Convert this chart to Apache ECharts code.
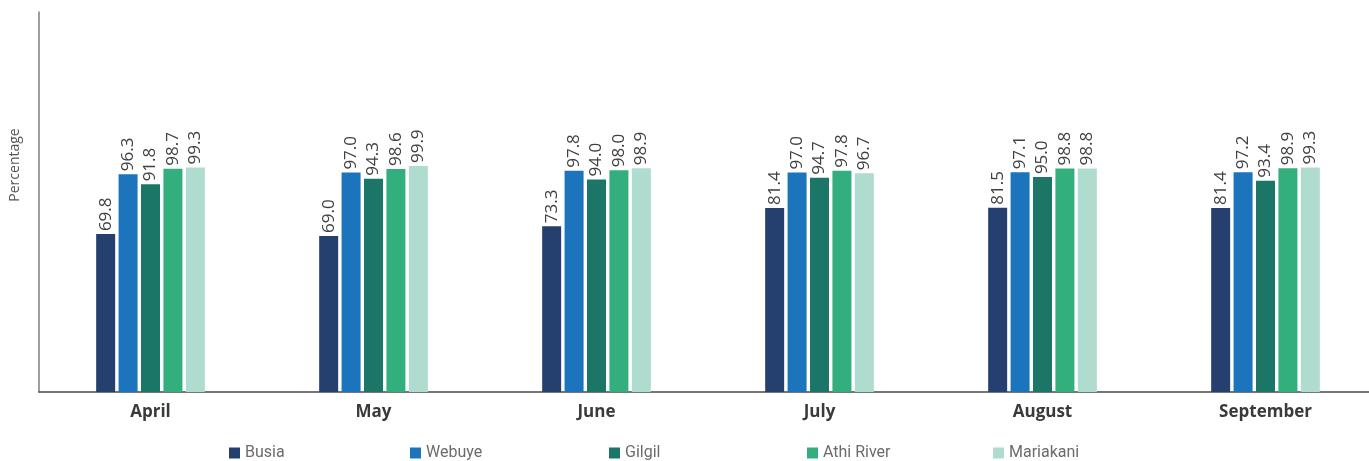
<!DOCTYPE html>
<html>
<head>
<meta charset="utf-8">
<script src="https://cdn.jsdelivr.net/npm/echarts@6/dist/echarts.min.js"></script>
<style>
  html, body { margin: 0; padding: 0; background: #ffffff; }
  #chart { width: 1369px; height: 461px; }
</style>
</head>
<body>
<div id="chart"></div>
<script>
// Monthly percentages per site
const months = ['April', 'May', 'June', 'July', 'August', 'September'];
const sites = ['Busia', 'Webuye', 'Gilgil', 'Athi River', 'Mariakani'];
const busia     = [69.8, 69.0, 73.3, 81.4, 81.5, 81.4];
const webuye    = [96.3, 97.0, 97.8, 97.0, 97.1, 97.2];
const gilgil    = [91.8, 94.3, 94.0, 94.7, 95.0, 93.4];
const athiRiver = [98.7, 98.6, 98.0, 97.8, 98.8, 98.9];
const mariakani = [99.3, 99.9, 98.9, 96.7, 98.8, 99.3];

const seriesValues = [busia, webuye, gilgil, athiRiver, mariakani];
const colors = ['#253f6e', '#1c75bc', '#1b7667', '#33af7e', '#b0dbcf'];
// left edge of each legend entry
const legendLeft = [224, 405, 604, 802, 988];

const chart = echarts.init(document.getElementById('chart'), null, { renderer: 'canvas' });

const series = sites.map((name, i) => ({
  name: name,
  type: 'bar',
  data: seriesValues[i],
  barWidth: 19,
  barGap: '18%',
  itemStyle: { color: colors[i] },
  label: {
    show: true,
    position: 'top',
    rotate: 90,
    align: 'left',
    verticalAlign: 'middle',
    distance: 3,
    formatter: p => p.value.toFixed(1),
    color: '#404040',
    fontFamily: 'Open Sans',
    fontSize: 17
  }
}));

// one legend block per site so the entries sit at fixed positions
const legends = sites.map((name, i) => ({
  data: [name],
  left: legendLeft[i],
  top: 440,
  itemWidth: 11,
  itemHeight: 11,
  icon: 'rect',
  textStyle: {
    color: '#6b6b6b',
    fontFamily: 'Roboto',
    fontSize: 16
  }
}));

chart.setOption({
  animation: false,
  backgroundColor: '#ffffff',
  grid: {
    left: 39, top: 12, width: 1338, height: 380,
    containLabel: false,
    outerBoundsMode: 'none'
  },
  legend: legends,
  xAxis: {
    type: 'category',
    data: months,
    axisLine: { show: true, lineStyle: { color: '#4a4a4a', width: 1.5 } },
    axisTick: { show: false },
    axisLabel: {
      color: '#3a3a3a',
      fontFamily: 'Open Sans',
      fontWeight: 'bold',
      fontSize: 17,
      margin: 12
    }
  },
  yAxis: {
    type: 'value',
    min: 0,
    max: 168,
    axisLine: { show: true, lineStyle: { color: '#7f7f7f', width: 1.5 } },
    axisTick: { show: false },
    axisLabel: { show: false },
    splitLine: { show: false }
  },
  graphic: [{
    type: 'text',
    x: 15,
    y: 165,
    rotation: Math.PI / 2,
    style: {
      text: 'Percentage',
      fill: '#555555',
      font: '14px "Open Sans"',
      align: 'center',
      verticalAlign: 'middle'
    }
  }],
  series: series
});
</script>
</body>
</html>
